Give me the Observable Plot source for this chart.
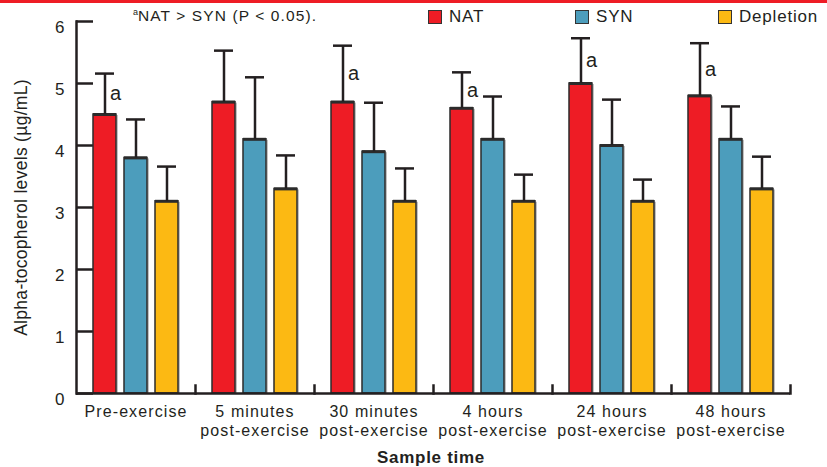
<!DOCTYPE html>
<html><head><meta charset="utf-8">
<script src="https://cdn.jsdelivr.net/npm/d3@7"></script>
<script src="https://cdn.jsdelivr.net/npm/@observablehq/plot@0.6"></script>
<style>
body{margin:0;background:#fff;font-family:"Liberation Sans",Arial,sans-serif;color:#231f20}
#wrap{position:relative;width:827px;height:467px;overflow:hidden;background:#fff}
#topbar{position:absolute;left:0;top:0;width:827px;height:3px;background:#ee1c25}
#note{position:absolute;left:133px;top:7px;font-size:15.5px;letter-spacing:1.1px;white-space:nowrap}
#note sup{font-size:9px;vertical-align:6px;letter-spacing:0}
.lg{position:absolute;top:7px;font-size:17px;white-space:nowrap;display:flex;align-items:center;letter-spacing:0.8px}
.lg span.sw{display:inline-block;width:12px;height:12px;border:1.5px solid #333;margin-right:7px}
#xlabel{position:absolute;left:0;width:862px;text-align:center;top:448px;font-size:17px;font-weight:bold;letter-spacing:0.7px}
#chart{position:absolute;left:0;top:0}
g[aria-label="fx-axis tick label"] text{letter-spacing:1.1px}
g[aria-label="y-axis label"], g[aria-label="y-axis label"] text{font-size:17.5px !important;letter-spacing:0.3px}
</style></head>
<body><div id="wrap"><div id="chart"></div><div id="topbar"></div>
<div id="note"><sup>a</sup>NAT &gt; SYN (P &lt; 0.05).</div>
<div id="legend"></div>
<div id="xlabel">Sample time</div>
</div>
<script>
const groups = ["Pre-exercise", "5 minutes\npost-exercise", "30 minutes\npost-exercise", "4 hours\npost-exercise", "24 hours\npost-exercise", "48 hours\npost-exercise"];
const series = ["NAT", "SYN", "Depletion"];
const natValues = [4.5, 4.7, 4.7, 4.6, 5.0, 4.8];
const natUpper  = [5.16, 5.53, 5.61, 5.18, 5.73, 5.65];
const synValues = [3.8, 4.1, 3.9, 4.1, 4.0, 4.1];
const synUpper  = [4.42, 5.10, 4.69, 4.79, 4.74, 4.63];
const depValues = [3.1, 3.3, 3.1, 3.1, 3.1, 3.3];
const depUpper  = [3.66, 3.84, 3.63, 3.53, 3.45, 3.82];
const natSignificant = [true, false, true, true, true, true];
const yTicks = [0, 1, 2, 3, 4, 5, 6];
const colors = ["#ee1c25", "#4c9dbc", "#fcb913"];
const yLabel = "Alpha-tocopherol levels (µg/mL)";

const valuesBySeries = [natValues, synValues, depValues];
const upperBySeries = [natUpper, synUpper, depUpper];
const data = [];
groups.forEach((g, i) => series.forEach((s, j) => data.push({
  group: g, series: s, value: valuesBySeries[j][i], upper: upperBySeries[j][i],
  sig: j === 0 && natSignificant[i]
})));

const ink = "#231f20";
const font = "'Liberation Sans', Arial, sans-serif";

const chart = Plot.plot({
  width: 827, height: 467,
  marginTop: 21, marginBottom: 74, marginLeft: 75, marginRight: 37,
  style: {fontFamily: font, fontSize: "16px", color: ink, background: "transparent", overflow: "visible"},
  fx: {domain: groups, padding: 0, label: null},
  x: {domain: series, paddingInner: 0.27, paddingOuter: 0.5, axis: null},
  y: {domain: [0, 6], ticks: yTicks},
  color: {domain: series, range: colors},
  marks: [
    Plot.frame({anchor: "left", facetAnchor: "left", stroke: ink, strokeWidth: 2.5}),
    Plot.frame({anchor: "right", insetTop: 364, stroke: ink, strokeWidth: 2.5}),
    Plot.axisY({ticks: yTicks, tickSize: -17, tickFormat: () => "", strokeWidth: 2.5, stroke: ink, label: null}),
    Plot.axisY({ticks: yTicks, tickSize: 0, tickPadding: 12, dy: 6, fontSize: 17, tickFormat: d3.format("d"), label: yLabel, labelAnchor: "center", labelArrow: false, labelOffset: 62}),
    Plot.axisFx({anchor: "bottom", tickSize: 0, tickPadding: 10, fontSize: 16, lineHeight: 1.2, label: null}),
    Plot.barY(data, {fx: "group", x: "series", y: "value", fill: "#777", fillOpacity: 0.45, dx: 2, dy: 1}),
    Plot.barY(data, {fx: "group", x: "series", y: "value", fill: "series", stroke: "#2b2b2b", strokeWidth: 1.5}),
    Plot.tickY(data, {fx: "group", x: "series", y: "value", stroke: "#2b2b2b", strokeWidth: 3}),
    Plot.ruleX(data, {fx: "group", x: "series", y1: "value", y2: "upper", stroke: ink, strokeWidth: 2.5}),
    Plot.tickY(data, {fx: "group", x: "series", y: "upper", stroke: ink, strokeWidth: 2.5, inset: 2}),
    Plot.text(data.filter(d => d.sig), {fx: "group", x: "series", y: d => (d.value + d.upper) / 2, text: () => "a", dx: 5, textAnchor: "start", fontSize: 20, fill: ink}),
    Plot.ruleY([0], {stroke: ink, strokeWidth: 2.5})
  ]
});
document.getElementById("chart").appendChild(chart);

const legendPos = [428, 575, 718];
const legend = document.getElementById("legend");
series.forEach((s, j) => {
  const item = document.createElement("div");
  item.className = "lg";
  item.style.left = legendPos[j] + "px";
  item.innerHTML = `<span class="sw" style="background:${colors[j]}"></span>${s}`;
  legend.appendChild(item);
});
</script>
</body></html>
